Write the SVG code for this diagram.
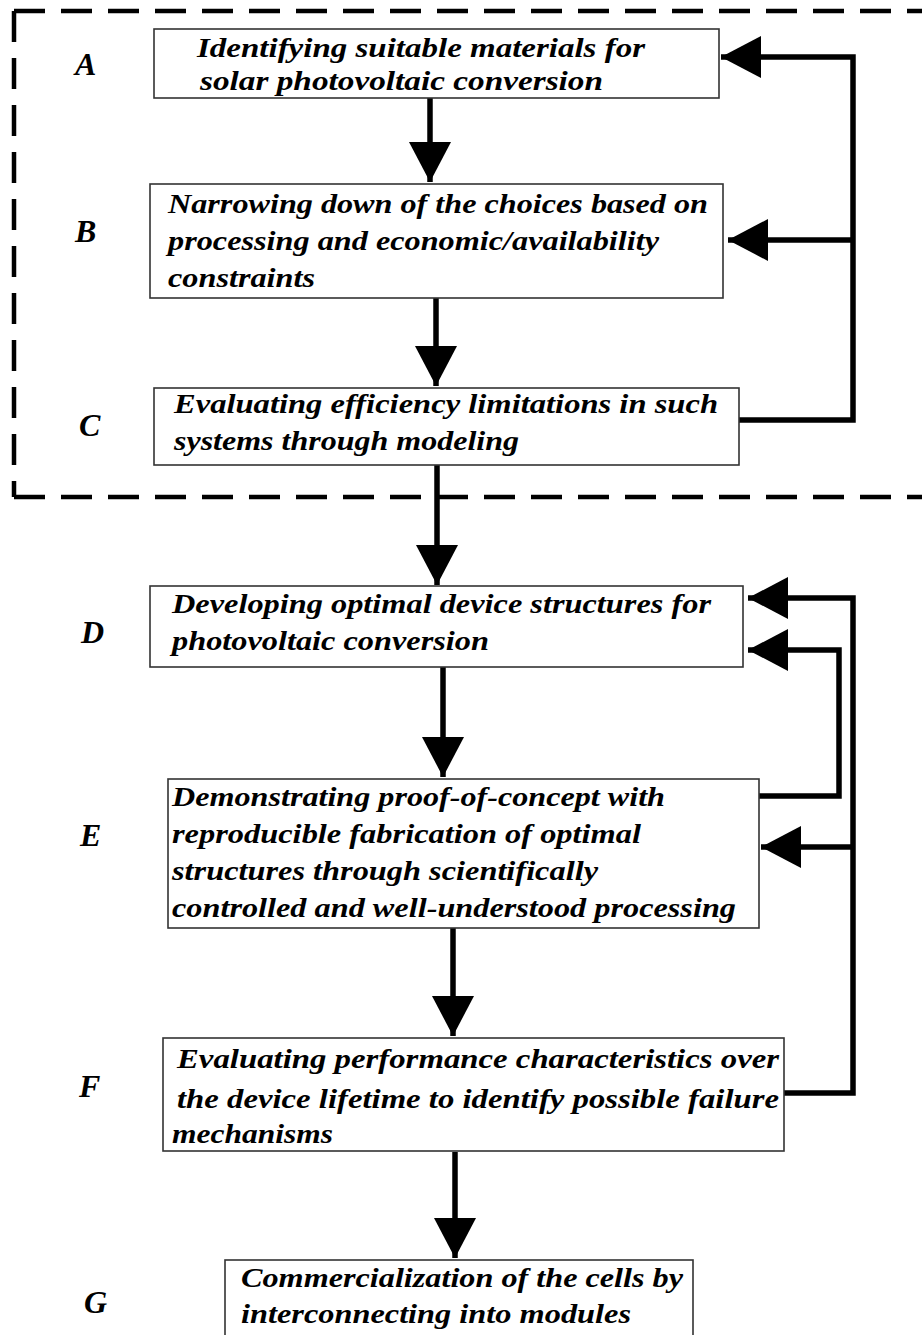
<svg xmlns="http://www.w3.org/2000/svg" width="922" height="1335" viewBox="0 0 922 1335">
<defs>
<style>
.box{fill:#fff;stroke:#333;stroke-width:1.6}
.t{font-family:"Liberation Serif","Times New Roman",serif;font-weight:bold;font-style:italic;font-size:27px;fill:#000}
.lbl{font-family:"Liberation Serif","Times New Roman",serif;font-weight:bold;font-style:italic;font-size:32px;fill:#000}
.ln{fill:none;stroke:#000;stroke-width:5.5}
.dash{fill:none;stroke:#000;stroke-width:4.5;stroke-dasharray:31 16}
</style>
<marker id="ah" markerUnits="userSpaceOnUse" markerWidth="42" markerHeight="42" refX="40" refY="21" orient="auto" viewBox="0 0 42 42">
<path d="M0,0 L40,21 L0,42 Z" fill="#000"/>
</marker>
</defs>
<rect width="922" height="1335" fill="#fff"/>

<g id="group-boundary">
<path class="dash" d="M14,11 H940"/>
<path class="dash" d="M14,11 V497"/>
<path class="dash" d="M14,497 H940"/>
</g>

<g id="connectors">
<path class="ln" d="M430,98 V182" marker-end="url(#ah)"/>
<path class="ln" d="M436,298 V386" marker-end="url(#ah)"/>
<path class="ln" d="M437,465 V585" marker-end="url(#ah)"/>
<path class="ln" d="M443,667 V777" marker-end="url(#ah)"/>
<path class="ln" d="M453,928 V1036" marker-end="url(#ah)"/>
<path class="ln" d="M455,1152 V1258" marker-end="url(#ah)"/>
<path class="ln" d="M739,420 H853 V57 H721" marker-end="url(#ah)"/>
<path class="ln" d="M853,240 H728" marker-end="url(#ah)"/>
<path class="ln" d="M784,1093 H853 V598 H748" marker-end="url(#ah)"/>
<path class="ln" d="M853,847 H761" marker-end="url(#ah)"/>
<path class="ln" d="M759,796 H839 V650 H748" marker-end="url(#ah)"/>
</g>

<g id="node-A">
<rect class="box" x="154" y="29" width="565" height="69"/>
<text class="lbl" x="75" y="75">A</text>
<text class="t" x="197" y="57" textLength="448" lengthAdjust="spacingAndGlyphs">Identifying  suitable materials for</text>
<text class="t" x="200" y="90" textLength="403" lengthAdjust="spacingAndGlyphs">solar  photovoltaic  conversion</text>
</g>

<g id="node-B">
<rect class="box" x="150" y="184" width="573" height="114"/>
<text class="lbl" x="75" y="242">B</text>
<text class="t" x="168" y="213" textLength="540" lengthAdjust="spacingAndGlyphs">Narrowing down of the choices based on</text>
<text class="t" x="168" y="250" textLength="491" lengthAdjust="spacingAndGlyphs">processing and economic/availability</text>
<text class="t" x="168" y="287" textLength="147" lengthAdjust="spacingAndGlyphs">constraints</text>
</g>

<g id="node-C">
<rect class="box" x="154" y="388" width="585" height="77"/>
<text class="lbl" x="79" y="436">C</text>
<text class="t" x="174" y="413" textLength="544" lengthAdjust="spacingAndGlyphs">Evaluating efficiency limitations in such</text>
<text class="t" x="174" y="450" textLength="345" lengthAdjust="spacingAndGlyphs">systems through modeling</text>
</g>

<g id="node-D">
<rect class="box" x="150" y="586" width="593" height="81"/>
<text class="lbl" x="81" y="643">D</text>
<text class="t" x="172" y="613" textLength="539" lengthAdjust="spacingAndGlyphs">Developing optimal device structures for</text>
<text class="t" x="172" y="650" textLength="317" lengthAdjust="spacingAndGlyphs">photovoltaic conversion</text>
</g>

<g id="node-E">
<rect class="box" x="168" y="779" width="591" height="149"/>
<text class="lbl" x="80" y="846">E</text>
<text class="t" x="172" y="806" textLength="493" lengthAdjust="spacingAndGlyphs">Demonstrating proof-of-concept with</text>
<text class="t" x="172" y="843" textLength="469" lengthAdjust="spacingAndGlyphs">reproducible fabrication of optimal</text>
<text class="t" x="172" y="880" textLength="426" lengthAdjust="spacingAndGlyphs">structures through scientifically</text>
<text class="t" x="172" y="917" textLength="564" lengthAdjust="spacingAndGlyphs">controlled and well-understood processing</text>
</g>

<g id="node-F">
<rect class="box" x="163" y="1038" width="621" height="113"/>
<text class="lbl" x="79" y="1097">F</text>
<text class="t" x="177" y="1068" textLength="602" lengthAdjust="spacingAndGlyphs">Evaluating  performance  characteristics over</text>
<text class="t" x="177" y="1108" textLength="602" lengthAdjust="spacingAndGlyphs">the device lifetime to identify possible failure</text>
<text class="t" x="172" y="1143" textLength="161" lengthAdjust="spacingAndGlyphs">mechanisms</text>
</g>

<g id="node-G">
<rect class="box" x="225" y="1260" width="468" height="90"/>
<text class="lbl" x="84" y="1313">G</text>
<text class="t" x="241" y="1287" textLength="442" lengthAdjust="spacingAndGlyphs">Commercialization of the cells by</text>
<text class="t" x="241" y="1323" textLength="390" lengthAdjust="spacingAndGlyphs">interconnecting into modules</text>
</g>
</svg>
